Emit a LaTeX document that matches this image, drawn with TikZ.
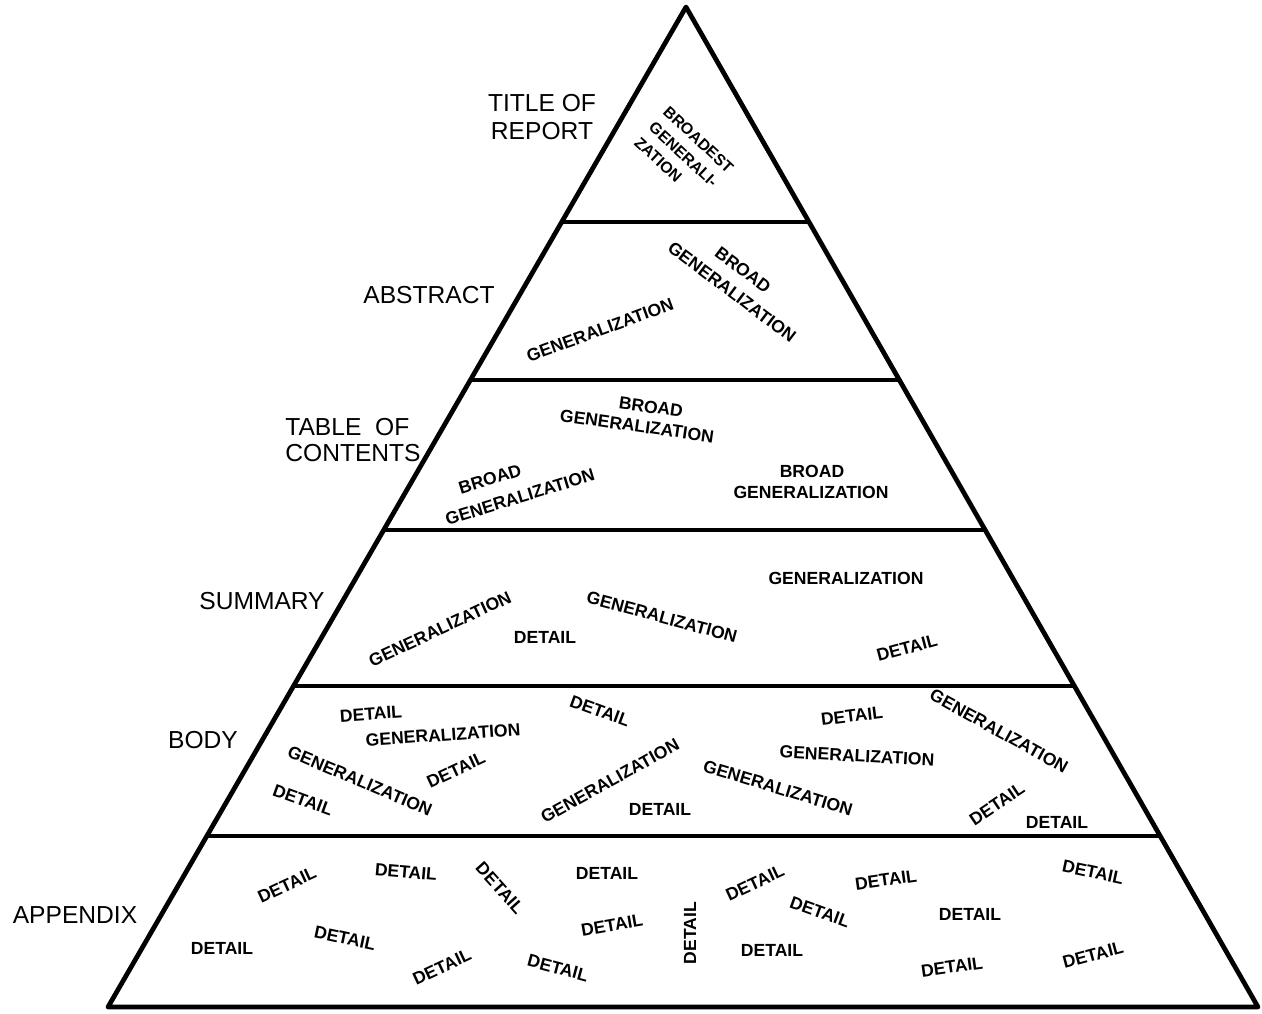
\documentclass[tikz,border=0pt]{standalone}
\usepackage{fontspec}
\setmainfont{Liberation Sans}
\usetikzlibrary{calc}
\begin{document}
\begin{tikzpicture}[x=0.02cm,y=-0.02cm,
  lbl/.style={font=\fontsize{14}{16}\selectfont, align=center, inner sep=0pt},
  itxt/.style={font=\bfseries\fontsize{10}{12}\selectfont, inner sep=0pt},
  outline/.style={line width=2.7pt, line join=round},
  sep/.style={line width=1.9pt}]
\useasboundingbox (0,0) rectangle (1262,1014);
\coordinate (A) at (686,7);
\coordinate (L) at (108,1007);
\coordinate (R) at (1258,1007);
\draw[outline] (A) -- (L) -- (R) -- cycle;
\foreach \t in {0.215,0.373,0.523,0.679,0.829}
  \draw[sep] ($(A)!\t!(L)$) -- ($(A)!\t!(R)$);

% level labels
\node[lbl] (title) at (542,117) {TITLE OF\\REPORT};
\node[lbl] (abstract) at (429,295) {ABSTRACT};
\node[lbl, align=left, font=\fontsize{14}{15}\selectfont] (toc) at (353,440) {TABLE\ \ OF\\CONTENTS};
\node[lbl] (summary) at (262,601) {SUMMARY};
\node[lbl] (body) at (203,740) {BODY};
\node[lbl] (appendix) at (75,915) {APPENDIX};

% title
\node[itxt, font=\bfseries\fontsize{9}{12}\selectfont, align=left, rotate=-43] (t1) at (684,155) {BROADEST\\GENERALI-\\ZATION};

% abstract
\node[itxt, rotate=-37] (a1) at (743,270) {BROAD};
\node[itxt, rotate=-37] (a2) at (732,292) {GENERALIZATION};
\node[itxt, rotate=20] (a3) at (600,330) {GENERALIZATION};

% table of contents
\node[itxt, rotate=-8] (c1) at (651,407) {BROAD};
\node[itxt, rotate=-8] (c2) at (637,426) {GENERALIZATION};
\node[itxt, rotate=17] (c3) at (490,479) {BROAD};
\node[itxt, rotate=17] (c4) at (520,497) {GENERALIZATION};
\node[itxt] (c5) at (812,471) {BROAD};
\node[itxt] (c6) at (811,492) {GENERALIZATION};

% summary
\node[itxt] (s1) at (846,578) {GENERALIZATION};
\node[itxt, rotate=25] (s2) at (440,629) {GENERALIZATION};
\node[itxt] (s3) at (545,637) {DETAIL};
\node[itxt, rotate=-15] (s4) at (662,617) {GENERALIZATION};
\node[itxt, rotate=15] (s5) at (907,648) {DETAIL};

% body
\node[itxt, rotate=4] (b1) at (371,714) {DETAIL};
\node[itxt, rotate=4] (b2) at (443,735) {GENERALIZATION};
\node[itxt, rotate=-23] (b3) at (360,781) {GENERALIZATION};
\node[itxt, rotate=25] (b4) at (456,770) {DETAIL};
\node[itxt, rotate=-20] (b5) at (303,800) {DETAIL};
\node[itxt, rotate=-20] (b6) at (600,711) {DETAIL};
\node[itxt, rotate=29] (b7) at (610,781) {GENERALIZATION};
\node[itxt] (b8) at (660,809) {DETAIL};
\node[itxt, rotate=7] (b9) at (852,716) {DETAIL};
\node[itxt, rotate=-3] (b10) at (857,756) {GENERALIZATION};
\node[itxt, rotate=-17] (b11) at (778,788) {GENERALIZATION};
\node[itxt, rotate=-29] (b12) at (999,731) {GENERALIZATION};
\node[itxt, rotate=34] (b13) at (997,804) {DETAIL};
\node[itxt] (b14) at (1057,822) {DETAIL};

% appendix
\node[itxt, rotate=25] (p1) at (287,885) {DETAIL};
\node[itxt, rotate=-5] (p2) at (406,872) {DETAIL};
\node[itxt, rotate=-48] (p3) at (500,888) {DETAIL};
\node[itxt] (p4) at (607,873) {DETAIL};
\node[itxt] (p5) at (222,948) {DETAIL};
\node[itxt, rotate=-12] (p6) at (345,938) {DETAIL};
\node[itxt, rotate=25] (p7) at (442,967) {DETAIL};
\node[itxt, rotate=10] (p8) at (612,925) {DETAIL};
\node[itxt, rotate=-15] (p9) at (558,968) {DETAIL};
\node[itxt, rotate=90] (p10) at (690,933) {DETAIL};
\node[itxt, rotate=25] (p11) at (755,883) {DETAIL};
\node[itxt, rotate=-20] (p12) at (820,912) {DETAIL};
\node[itxt] (p13) at (772,950) {DETAIL};
\node[itxt, rotate=8] (p14) at (886,880) {DETAIL};
\node[itxt] (p15) at (970,914) {DETAIL};
\node[itxt, rotate=8] (p16) at (952,967) {DETAIL};
\node[itxt, rotate=-12] (p17) at (1093,872) {DETAIL};
\node[itxt, rotate=15] (p18) at (1093,955) {DETAIL};
\end{tikzpicture}
\end{document}
